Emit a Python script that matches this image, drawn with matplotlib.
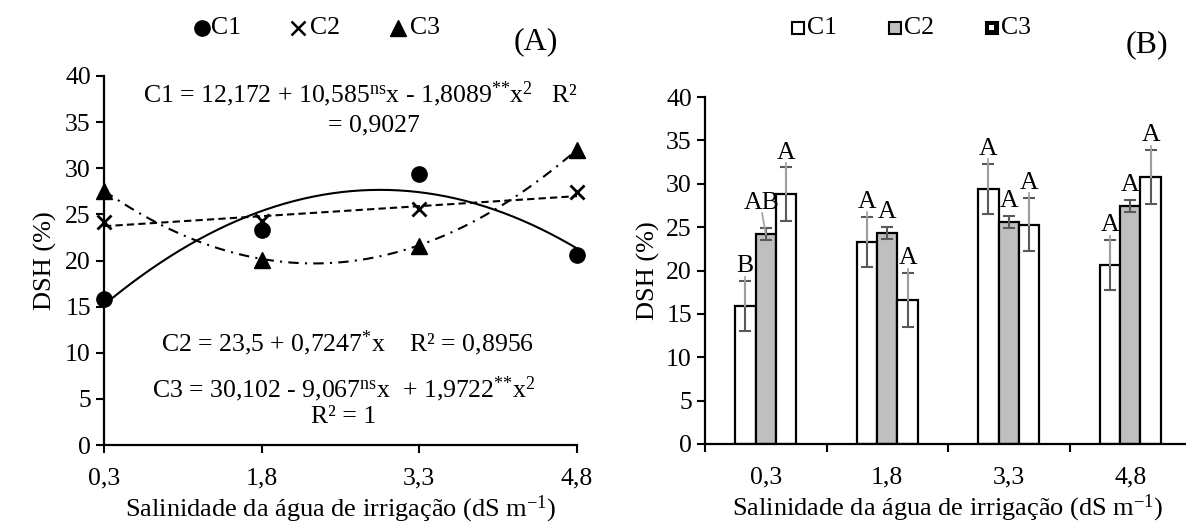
import matplotlib
matplotlib.use("Agg")
import matplotlib.pyplot as plt
import numpy as np
from matplotlib.lines import Line2D
from matplotlib.patches import Rectangle

plt.rcParams['font.family'] = ['Liberation Serif', 'DejaVu Serif']
plt.rcParams['mathtext.fontset'] = 'custom'
plt.rcParams['mathtext.rm'] = 'Liberation Serif'
plt.rcParams['mathtext.it'] = 'Liberation Serif:italic'
plt.rcParams['mathtext.bf'] = 'Liberation Serif:bold'

# ---------------- data ----------------
salinity = [0.3, 1.8, 3.3, 4.8]
tick_labels = ['0,3', '1,8', '3,3', '4,8']

# Panel A (observed points)
a_c1 = [15.8, 23.3, 29.4, 20.6]
a_c2 = [24.2, 24.3, 25.6, 27.4]
a_c3 = [27.5, 20.1, 21.6, 32.0]

# regression coefficients (from equations)
c1_coef = [12.172, 10.585, -1.8089]
c2_coef = [23.5, 0.7247]
c3_coef = [30.102, -9.067, 1.9722]

# Panel B (means, errors, letters)
b_c1 = [15.9, 23.3, 29.4, 20.6]
b_c2 = [24.2, 24.3, 25.6, 27.4]
b_c3 = [28.8, 16.6, 25.3, 30.8]
e_c1 = [2.9, 2.9, 2.9, 2.9]
e_c2 = [0.7, 0.7, 0.7, 0.7]
e_c3 = [3.1, 3.1, 3.1, 3.1]
l_c1 = ['B', 'A', 'A', 'A']
l_c2 = ['AB', 'A', 'A', 'A']
l_c3 = ['A', 'A', 'A', 'A']

W, H = 1186, 529
fig = plt.figure(figsize=(W / 100, H / 100), dpi=100)

def px_axes(l, r, t, b):
    return fig.add_axes([l / W, 1 - b / H, (r - l) / W, (b - t) / H])

def fx(x):
    return x / W

def fy(y):
    return 1 - y / H

FS = 18.5
LFS = 19
# ---------------- Panel A ----------------
axA = px_axes(104, 577, 76, 445)
xs = np.linspace(0.3, 4.8, 200)
y1 = c1_coef[0] + c1_coef[1] * xs + c1_coef[2] * xs ** 2
y2 = c2_coef[0] + c2_coef[1] * xs
y3 = c3_coef[0] + c3_coef[1] * xs + c3_coef[2] * xs ** 2
axA.plot(xs, y1, color='black', lw=1.5, ls='-')
axA.plot(xs, y2, color='black', lw=1.5, ls=(0, (3.5, 2)))
axA.plot(xs, y3, color='black', lw=1.5, ls=(0, (5, 3, 1, 3)))
axA.plot(salinity, a_c1, 'o', color='black', ms=11, clip_on=False, zorder=5)
axA.plot(salinity, a_c2, 'x', color='black', ms=10, mew=2, clip_on=False, zorder=5)
axA.plot(salinity, a_c3, '^', color='black', ms=11, clip_on=False, zorder=5)
axA.set_xlim(0.3, 4.8)
axA.set_ylim(0, 40)
axA.set_xticks(salinity)
axA.set_xticklabels(tick_labels)
axA.set_yticks(range(0, 41, 5))
axA.set_ylabel('DSH (%)', fontsize=LFS, labelpad=6)
axA.set_xlabel('Salinidade da água de irrigação (dS m$^{\\mathrm{-1}}$)', fontsize=LFS, labelpad=3)

sup_ns = '$^{\\mathrm{ns}}$'
sup_2s = '$^{{*}{*}}$'
sup_1s = '$^{{*}}$'
sup_sq = '$^{\\mathrm{2}}$'
axA.text(2.74, 38.0, 'C1 = 12,172 + 10,585' + sup_ns + 'x - 1,8089' + sup_2s + 'x' + sup_sq + '   R²',
         ha='center', va='center', fontsize=FS)
axA.text(2.87, 34.6, '= 0,9027', ha='center', va='center', fontsize=FS)
axA.text(2.62, 11.0, 'C2 = 23,5 + 0,7247' + sup_1s + 'x    R² = 0,8956',
         ha='center', va='center', fontsize=FS)
axA.text(2.58, 6.1, 'C3 = 30,102 - 9,067' + sup_ns + 'x  + 1,9722' + sup_2s + 'x' + sup_sq,
         ha='center', va='center', fontsize=FS)
axA.text(2.58, 3.0, 'R² = 1', ha='center', va='center', fontsize=FS)

# legend A (manual)
leg_y = 28
for mx, mk, lab, tx in [(202, 'o', 'C1', 211), (298, 'x', 'C2', 310), (398, '^', 'C3', 410)]:
    fig.add_artist(Line2D([fx(mx)], [fy(leg_y)], transform=fig.transFigure, marker=mk,
                          color='black', ls='none', ms=11 if mk != 'x' else 10,
                          mew=1.8 if mk == 'x' else 1))
    fig.text(fx(tx), fy(leg_y), lab, ha='left', va='center', fontsize=FS)
fig.text(fx(536), fy(42), '(A)', ha='center', va='center', fontsize=23)

# ---------------- Panel B ----------------
axB = px_axes(705, 1191, 97, 444)
pos = np.arange(len(salinity)) + 0.5
bw = 0.168
series = [(b_c1, e_c1, l_c1, 'white', -bw),
          (b_c2, e_c2, l_c2, '#bfbfbf', 0.0),
          (b_c3, e_c3, l_c3, 'white', bw)]
for vals, errs, labs, fc, off in series:
    xb = pos + off
    axB.bar(xb, vals, width=bw, color=fc, edgecolor='black', linewidth=1.6, zorder=2)
    axB.errorbar(xb, vals, yerr=errs, fmt='none', ecolor='#595959', elinewidth=1.5,
                 capsize=4.5, capthick=1.5, zorder=3)
    for x, v, e, lab in zip(xb, vals, errs, labs):
        ly = v + e + 1.7
        lx = x
        if lab == 'AB':
            ly = v + e + 2.9
            lx = x - 0.03
        axB.text(lx, ly, lab, ha='center', va='center', fontsize=FS, zorder=5)
        if ly - v > 3.0:
            axB.plot([lx, x], [ly - 1.2, v], color='#a6a6a6', lw=1.3, zorder=4)

axB.set_xlim(0, 4)
axB.set_ylim(0, 40)
axB.set_xticks([0, 1, 2, 3, 4])
axB.set_xticklabels([])
axB.set_xticks(pos, minor=True)
axB.set_xticklabels(tick_labels, minor=True)
axB.tick_params(axis='x', which='minor', length=0, pad=16, labelsize=FS)
axB.set_yticks(range(0, 41, 5))
axB.set_ylabel('DSH (%)', fontsize=LFS, labelpad=4)
axB.set_xlabel('Salinidade da água de irrigação (dS m$^{\\mathrm{-1}}$)', fontsize=LFS, labelpad=3)

# legend B (manual)
sq = 12
for cx, fc, lab in [(798, 'white', 'C1'), (895, '#bfbfbf', 'C2'), (992, 'black', 'C3')]:
    fig.add_artist(Rectangle((fx(cx - sq / 2), fy(leg_y + sq / 2)), sq / W, sq / H,
                             transform=fig.transFigure, facecolor=fc, edgecolor='black', lw=1.5))
    if lab == 'C3':
        fig.add_artist(Rectangle((fx(cx - 3), fy(leg_y + 2)), 5 / W, 5 / H,
                                 transform=fig.transFigure, facecolor='white', edgecolor='none'))
    fig.text(fx(cx + 9), fy(leg_y), lab, ha='left', va='center', fontsize=FS)
fig.text(fx(1147), fy(45), '(B)', ha='center', va='center', fontsize=23)

for ax in (axA, axB):
    for s in ('top', 'right'):
        ax.spines[s].set_visible(False)
    for s in ('left', 'bottom'):
        ax.spines[s].set_linewidth(1.6)
    ax.tick_params(axis='both', which='major', direction='out', length=6, width=1.5,
                   labelsize=FS)
    ax.tick_params(axis='x', which='major', pad=10)

fig.savefig('out.png', dpi=100)
